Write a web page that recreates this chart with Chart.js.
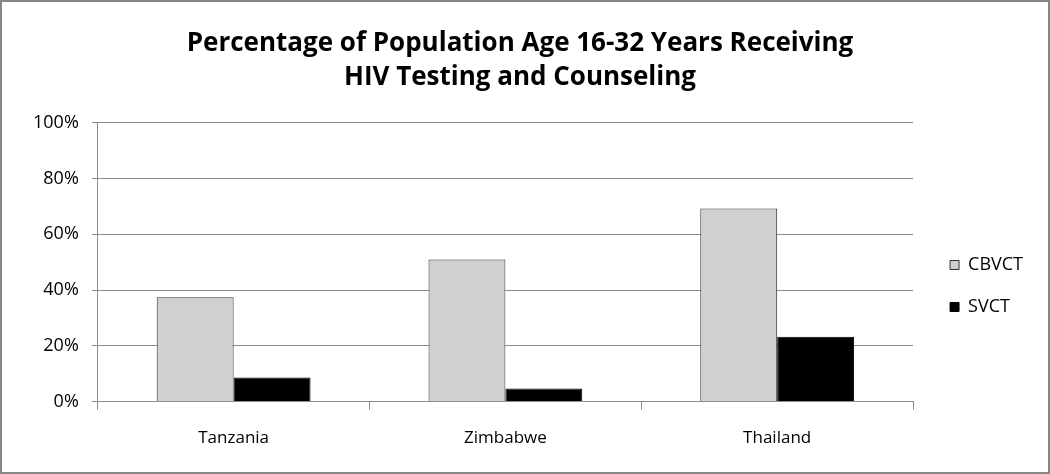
<!DOCTYPE html>
<html>
<head>
<meta charset="utf-8">
<script src="https://cdn.jsdelivr.net/npm/chart.js@4"></script>
<style>
    html, body { margin: 0; padding: 0; background: #fff; }
    #wrap { position: relative; width: 1050px; height: 474px; }
    #frame { position: absolute; left: 0; top: 0; width: 1046px; height: 470px; border: 2px solid #868686; pointer-events: none; }
</style>
</head>
<body>
<div id="wrap">
    <canvas id="chart" width="1050" height="474"></canvas>
    <div id="frame"></div>
</div>
<script>
// Chart data
const countries = ['Tanzania', 'Zimbabwe', 'Thailand'];
const cbvct = [37.4, 50.9, 69.2];
const svct = [8.6, 4.7, 23.2];
const titleLines = ['Percentage of Population Age 16-32 Years Receiving', 'HIV Testing and Counseling'];

const fontFamily = "'Open Sans', 'Liberation Sans', sans-serif";

// nudge the legend so it sits like the original (right of plot, a bit lower)
const legendNudge = {
    id: 'legendNudge',
    afterLayout(chart) {
        const lg = chart.legend;
        if (!lg) return;
        lg.left += 13; lg.right += 13;
        lg.top += 53; lg.bottom += 53;
    }
};

const ctx = document.getElementById('chart').getContext('2d');
new Chart(ctx, {
    type: 'bar',
    data: {
        labels: countries,
        datasets: [
            { label: 'CBVCT', data: cbvct, backgroundColor: '#d0d0d0', borderColor: '#333', borderWidth: 1 },
            { label: 'SVCT', data: svct, backgroundColor: '#000', borderColor: '#000', borderWidth: 1 }
        ]
    },
    options: {
        responsive: false,
        animation: false,
        categoryPercentage: 0.566,
        barPercentage: 1,
        layout: { padding: { left: 20, right: 30, top: 0, bottom: 8 } },
        plugins: {
            title: {
                display: true,
                text: titleLines,
                color: '#000',
                font: { family: fontFamily, size: 26, weight: 'bold', lineHeight: 1.3 },
                padding: { top: 27, bottom: 28 }
            },
            legend: {
                position: 'right',
                labels: {
                    color: '#000',
                    font: { family: fontFamily, size: 18 },
                    boxWidth: 9,
                    boxHeight: 9,
                    padding: 24
                }
            },
            tooltip: { enabled: false }
        },
        scales: {
            x: {
                grid: { offset: true, drawOnChartArea: false, drawTicks: true, tickLength: 8, color: '#8c8c8c' },
                border: { color: '#8c8c8c' },
                ticks: { color: '#000', font: { family: fontFamily, size: 17 }, padding: 18 }
            },
            y: {
                min: 0,
                max: 100,
                grid: { color: '#8c8c8c', tickLength: 6 },
                border: { color: '#8c8c8c' },
                ticks: {
                    stepSize: 20,
                    color: '#000',
                    font: { family: fontFamily, size: 18 },
                    padding: 13,
                    callback: v => v + '%'
                }
            }
        }
    },
    plugins: [legendNudge]
});
</script>
</body>
</html>
